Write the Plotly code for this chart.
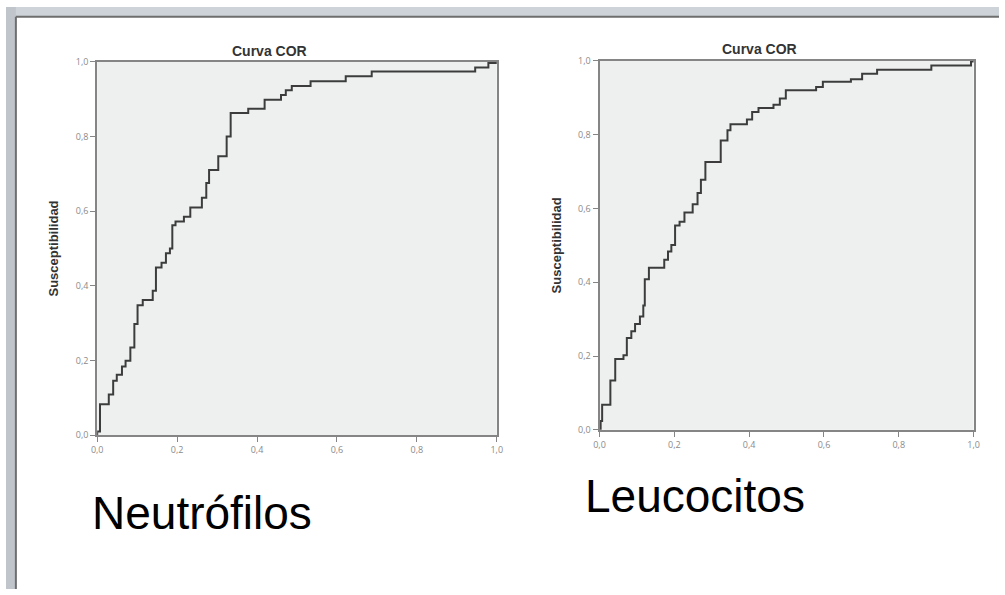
import plotly.graph_objects as go

# Neutrófilos ROC (1 - especificidad, susceptibilidad)
fpr_neut = [0.0, 0.0, 0.007, 0.029, 0.040, 0.049, 0.062, 0.071, 0.083, 0.093,
            0.101, 0.114, 0.139, 0.147, 0.161, 0.172, 0.182, 0.188, 0.196, 0.217,
            0.233, 0.262, 0.273, 0.280, 0.303, 0.324, 0.334, 0.378, 0.419, 0.460,
            0.472, 0.487, 0.534, 0.622, 0.687, 0.946, 0.979, 1.0]
tpr_neut = [0.0, 0.01, 0.083, 0.109, 0.146, 0.162, 0.184, 0.199, 0.235, 0.298,
            0.348, 0.362, 0.387, 0.449, 0.462, 0.487, 0.500, 0.562, 0.572, 0.585,
            0.610, 0.636, 0.675, 0.710, 0.747, 0.800, 0.863, 0.874, 0.898, 0.911,
            0.924, 0.935, 0.948, 0.961, 0.974, 0.985, 0.997, 1.0]

# Leucocitos ROC
fpr_leuc = [0.0, 0.003, 0.007, 0.029, 0.042, 0.064, 0.073, 0.085, 0.095, 0.108,
            0.117, 0.121, 0.132, 0.173, 0.183, 0.192, 0.202, 0.214, 0.227, 0.249,
            0.262, 0.271, 0.283, 0.324, 0.342, 0.350, 0.394, 0.408, 0.425, 0.465,
            0.482, 0.498, 0.579, 0.597, 0.672, 0.702, 0.742, 0.887, 0.993, 1.0]
tpr_leuc = [0.0, 0.024, 0.068, 0.134, 0.192, 0.202, 0.249, 0.267, 0.287, 0.307,
            0.337, 0.408, 0.439, 0.461, 0.483, 0.501, 0.554, 0.564, 0.589, 0.611,
            0.642, 0.678, 0.726, 0.784, 0.812, 0.828, 0.841, 0.861, 0.872, 0.881,
            0.898, 0.920, 0.929, 0.943, 0.950, 0.965, 0.976, 0.987, 0.998, 1.0]

plot_title = "Curva COR"
y_title = "Susceptibilidad"
panel_labels = ["Neutrófilos", "Leucocitos"]
tick_vals = [0.0, 0.2, 0.4, 0.6, 0.8, 1.0]

W, H = 1005, 595

def px_x(p):
    return p / W

def px_y(p):
    return 1 - p / H

fig = go.Figure()
line_style = dict(color="#3c3c3c", width=2, shape="hv")
fig.add_trace(go.Scatter(x=fpr_neut, y=tpr_neut, mode="lines", line=line_style,
                         xaxis="x", yaxis="y", showlegend=False, hoverinfo="skip"))
fig.add_trace(go.Scatter(x=fpr_leuc, y=tpr_leuc, mode="lines", line=line_style,
                         xaxis="x2", yaxis="y2", showlegend=False, hoverinfo="skip"))

axis_common = dict(range=[0, 1], tickvals=tick_vals, tickformat=".1f",
                   showgrid=False, zeroline=False, showline=True, mirror=True,
                   linecolor="#858585", linewidth=2, ticks="outside", ticklen=5,
                   tickcolor="#858585", tickwidth=1,
                   tickfont=dict(family="Open Sans, Liberation Sans", size=9, color="#8a8a8a"),
                   fixedrange=True)

ytitle_font = dict(family="Liberation Sans", size=13, color="#333333")

fig.update_layout(
    width=W, height=H,
    margin=dict(l=0, r=0, t=0, b=0),
    paper_bgcolor="white",
    plot_bgcolor="#eef0f0",
    separators=",.",
    xaxis=dict(domain=[px_x(92.3), px_x(496.7)], anchor="y", **axis_common),
    yaxis=dict(domain=[px_y(437.7), px_y(56)], anchor="x",
               title=dict(text="<b>" + y_title + "</b>", standoff=14, font=ytitle_font),
               **axis_common),
    xaxis2=dict(domain=[px_x(600.7), px_x(979.3)], anchor="y2", **axis_common),
    yaxis2=dict(domain=[px_y(432.3), px_y(55)], anchor="x2",
                title=dict(text="<b>" + y_title + "</b>", standoff=14, font=ytitle_font),
                **axis_common),
)

# Photo-like background strips outside the white panel
fig.add_shape(type="rect", xref="paper", yref="paper", x0=0, x1=1, y0=px_y(10), y1=1,
              fillcolor="#cdd3d9", line_width=0, layer="below")
fig.add_shape(type="rect", xref="paper", yref="paper", x0=0, x1=px_x(10), y0=0, y1=1,
              fillcolor="#bfc5cb", line_width=0, layer="below")
fig.add_shape(type="line", xref="paper", yref="paper", x0=px_x(10), x1=px_x(10),
              y0=0, y1=px_y(10), line=dict(color="#6e6e6e", width=2), layer="below")
fig.add_shape(type="line", xref="paper", yref="paper", x0=px_x(10), x1=1,
              y0=px_y(10), y1=px_y(10), line=dict(color="#6e6e6e", width=2), layer="below")

# Chart titles
for cx, cy in [(267, 45), (763, 43)]:
    fig.add_annotation(x=px_x(cx), y=px_y(cy), xref="paper", yref="paper",
                       text="<b>" + plot_title + "</b>", showarrow=False,
                       xanchor="center", yanchor="middle",
                       font=dict(family="Liberation Sans", size=14, color="#333333"))

# Panel labels
for label, lx, ly in [(panel_labels[0], 85, 517), (panel_labels[1], 584, 500)]:
    fig.add_annotation(x=px_x(lx), y=px_y(ly), xref="paper", yref="paper",
                       text=label, showarrow=False, xanchor="left", yanchor="middle",
                       font=dict(family="Liberation Sans, Arial", size=46, color="black"))

fig.write_html("out.html", config={"displayModeBar": False},
               post_script="document.body.style.margin='0';document.body.style.overflow='hidden';")
